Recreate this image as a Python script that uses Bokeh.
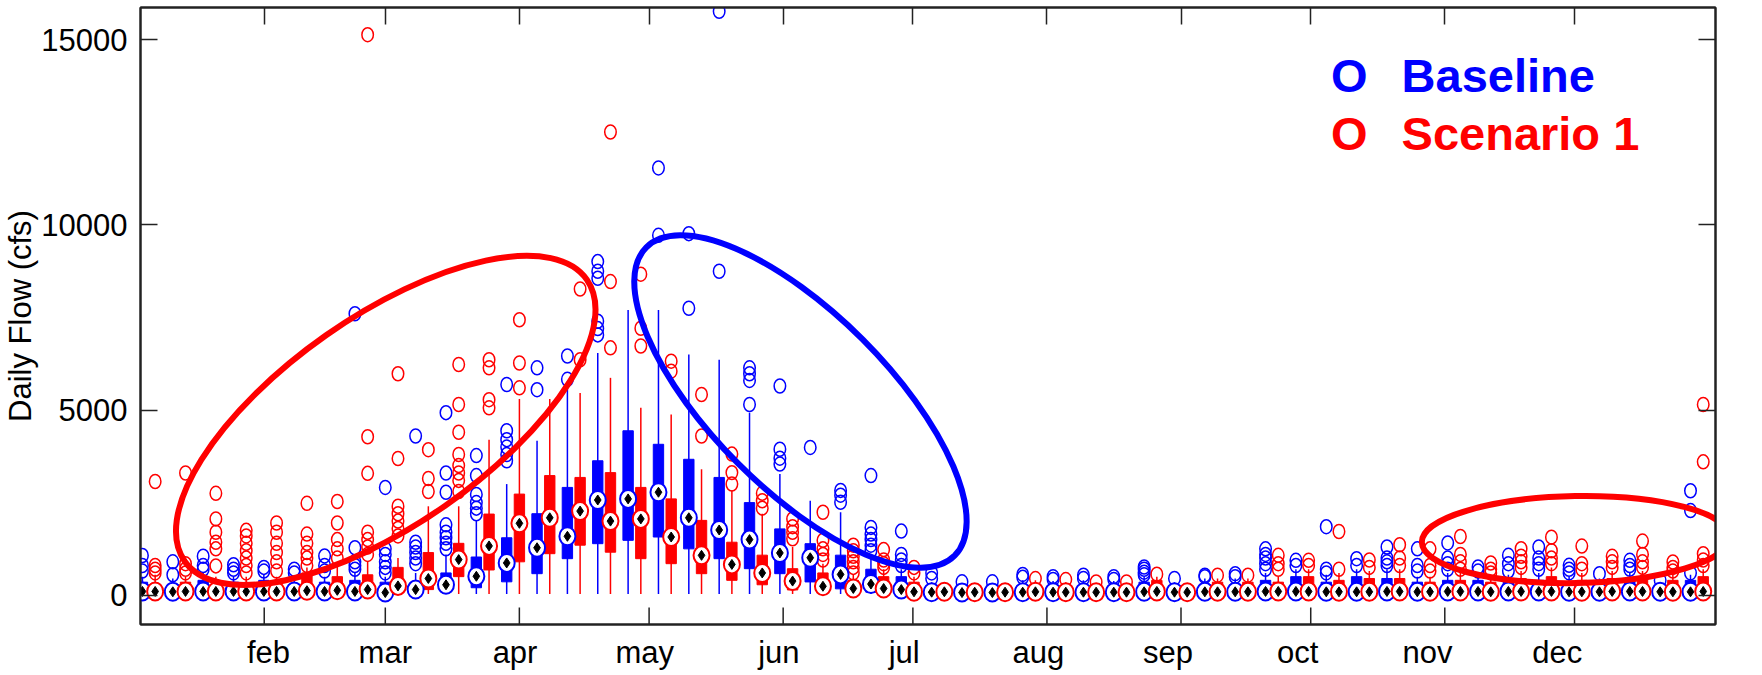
import numpy as np
from bokeh.plotting import figure
from bokeh.models import FixedTicker, LinearAxis, Range1d, ColumnDataSource, Label
from bokeh.embed import file_html
from bokeh.resources import INLINE

# ---------------- data ----------------
months = ["feb", "mar", "apr", "may", "jun", "jul", "aug", "sep", "oct", "nov", "dec"]
month_start_doy = [32, 60, 91, 121, 152, 182, 213, 244, 274, 305, 335]   # tick marks
month_label_doy = [33, 60, 90, 120, 151, 180, 211, 241, 271, 301, 331]   # label anchors
y_ticks = [0, 5000, 10000, 15000]
y_title = "Daily Flow (cfs)"
n_weeks = 52

base_med = [100, 90, 100, 100, 100, 100, 100, 100, 70, 150, 280, 510, 870, 1280, 1590, 2570, 2600, 2780, 2090, 1760,
            1500, 1140, 1010, 560, 300, 150, 80, 70, 70, 80, 80, 80, 80, 90, 80, 90, 90, 100, 100, 90,
            90, 100, 90, 100, 100, 100, 100, 90, 90, 100, 90, 90]
base_q1 = [30, 20, 30, 30, 30, 30, 30, 30, 20, 40, 80, 200, 360, 580, 985, 1390, 1480, 1570, 1250, 985,
           715, 580, 357, 170, 80, 40, 20, 20, 20, 20, 20, 20, 20, 30, 20, 30, 30, 30, 30, 30,
           30, 30, 30, 30, 30, 30, 30, 30, 30, 30, 30, 30]
base_q3 = [350, 300, 400, 350, 400, 300, 350, 400, 350, 350, 600, 1030, 1550, 2200, 2910, 3630, 4440, 4075, 3670, 3180,
           2500, 1790, 1390, 1080, 700, 500, 200, 180, 200, 250, 220, 250, 220, 350, 250, 300, 300, 400, 500, 350,
           500, 450, 350, 400, 400, 350, 400, 350, 300, 400, 250, 400]
base_hi = [500, 450, 600, 500, 550, 450, 500, 600, 500, 600, 1100, 2000, 3000, 4170, 5700, 6540, 7700, 7700, 6500, 6360,
           4930, 3270, 2550, 2240, 1000, 700, 350, 300, 300, 400, 380, 400, 380, 500, 350, 450, 450, 600, 700, 550,
           700, 700, 500, 600, 550, 550, 600, 500, 450, 600, 350, 550]
base_lo = [30] * n_weeks
base_out = [
    [650, 800, 1070], [550, 900], [700, 800, 1050], [600, 700, 820], [650, 750], [600, 700], [650, 800, 1060],
    [700, 800, 900, 1280, 7600], [600, 750, 900, 1100, 1250, 2910], [850, 1000, 1150, 1300, 1430, 4300],
    [1250, 1400, 1550, 1700, 1900, 2780, 3300, 4930], [2200, 2350, 2500, 2720, 3230, 3770],
    [3630, 3800, 4000, 4200, 4440, 5690], [5550, 6140], [5830, 6460], [7030, 7200, 7400, 8560, 8750, 9010],
    [], [9720, 11540], [7750, 9765], [8750, 15770], [5150, 5800, 5980, 6140], [3540, 3700, 3940, 5650],
    [3990], [2510, 2700, 2830], [1200, 1350, 1500, 1650, 1830, 3230], [800, 950, 1100, 1730],
    [450, 600], [360], [360], [480, 560], [420, 500], [450, 540], [420, 500], [550, 620, 700, 760], [450],
    [500, 540], [500, 580], [700, 850, 1000, 1100, 1250], [800, 940], [600, 700, 1850], [800, 985],
    [800, 900, 1000, 1300], [650, 800, 1250], [700, 850, 1000, 1410], [650, 760], [650, 850, 1075],
    [700, 850, 1000, 1300], [600, 700, 806], [580], [700, 800, 940], [400], [600, 2285, 2820],
]

scen_med = [100, 100, 100, 100, 100, 120, 130, 150, 250, 450, 960, 1330, 1940, 2090, 2270, 2000, 2060, 1570, 1075, 830,
            600, 380, 240, 180, 180, 90, 90, 80, 80, 90, 80, 80, 80, 100, 80, 90, 90, 100, 100, 90,
            90, 100, 90, 100, 90, 100, 100, 90, 100, 100, 90, 100]
scen_q1 = [30, 30, 30, 30, 30, 30, 40, 40, 60, 150, 500, 680, 900, 1120, 1350, 1160, 985, 850, 580, 400,
           280, 140, 60, 50, 40, 20, 30, 20, 20, 30, 20, 20, 20, 30, 20, 30, 30, 30, 30, 30,
           30, 30, 30, 30, 30, 30, 30, 30, 30, 30, 30, 30]
scen_q3 = [300, 350, 300, 300, 300, 600, 500, 550, 750, 1150, 1400, 2190, 2730, 3230, 3180, 3310, 2910, 2600, 2020, 1430,
           1080, 715, 600, 400, 500, 350, 250, 200, 200, 300, 250, 200, 200, 400, 200, 350, 350, 350, 500, 400,
           450, 450, 350, 400, 350, 450, 500, 400, 450, 450, 400, 500]
scen_hi = [550, 500, 500, 500, 500, 750, 850, 900, 1000, 2400, 2400, 4200, 5300, 5300, 5460, 5870, 5060, 4880, 3400, 2830,
           2200, 1300, 850, 550, 700, 500, 300, 300, 300, 400, 350, 300, 300, 500, 300, 450, 450, 500, 700, 600,
           650, 700, 500, 600, 500, 650, 750, 600, 650, 650, 550, 700]
scen_lo = [30] * n_weeks
scen_out = [
    [600, 700, 800, 3070], [600, 700, 850, 3300], [790, 1250, 1430, 1700, 2060, 2750],
    [600, 800, 1000, 1200, 1400, 1600, 1750], [650, 900, 1150, 1400, 1700, 1950],
    [800, 1000, 1150, 1400, 1650, 2480], [1000, 1250, 1500, 1950, 2530],
    [1100, 1300, 1500, 1700, 3290, 4280, 15140], [1600, 1800, 2000, 2200, 2400, 3690, 5980],
    [2800, 3150, 3930], [2800, 3100, 3300, 3500, 3800, 4400, 5150, 6230], [5060, 5280, 6140, 6360],
    [5600, 6270, 7440], [], [6360, 8270], [6680, 8470, 12510], [6730, 7210, 8670], [6050, 6320],
    [4300, 5420], [3000, 3310, 3810], [2350, 2550, 2750], [1520, 1700, 1850, 2060],
    [950, 1100, 1250, 1480, 2240], [600, 750, 900, 1050, 1200, 1350], [750, 850, 950, 1230], [600, 750],
    [], [], [], [447], [420], [357], [357], [564], [], [540], [540], [700, 850, 1075], [800, 940],
    [700, 1720], [750, 950], [800, 1000, 1360], [650, 800, 1250], [700, 900, 1100, 1585], [600, 700, 868],
    [750, 900, 1050, 1253], [850, 1000, 1200, 1567], [700, 850, 1325], [750, 900, 1048],
    [750, 900, 1100, 1460], [650, 750, 895], [800, 950, 1120, 3600, 5150],
]

series_names = ["Baseline", "Scenario 1"]
series_colors = ["#0000FF", "#FF0000"]

# highlight ellipses (center day-of-year, flow; size in screen px; angle in deg)
ell_x = [60.1, 156.0, 335.3]
ell_y = [4720, 5230, 1500]
ell_w = [491, 436, 308]
ell_h = [208, 176, 87]
ell_angle = [35, -45, 1]
ell_color = ["#FF0000", "#0000FF", "#FF0000"]

# ---------------- figure ----------------
FONT = "Liberation Sans"
AX = "#222222"
X0, X1 = 3.39, 367.6
Y0, Y1 = -793, 15874
p = figure(width=1756, height=672, x_range=Range1d(X0, X1), y_range=Range1d(Y0, Y1),
           output_backend="svg", toolbar_location=None,
           min_border_left=138, min_border_right=41, min_border_top=7, min_border_bottom=45)
p.xgrid.visible = False
p.ygrid.visible = False
p.outline_line_color = AX
p.outline_line_width = 2
p.background_fill_color = "white"
p.border_fill_color = "white"

bin_w = 365.0 / n_weeks
centers = 1.8 + (np.arange(n_weeks) + 0.5) * bin_w
dodge = 1.47
box_w = 2.4

groups = [
    (base_med, base_q1, base_q3, base_lo, base_hi, base_out, -dodge),
    (scen_med, scen_q1, scen_q3, scen_lo, scen_hi, scen_out, +dodge),
]
for (med, q1, q3, lo, hi, outs, off), color in zip(groups, series_colors):
    xs = centers + off
    src = ColumnDataSource(dict(x=xs, med=med, q1=q1, q3=q3, lo=lo, hi=hi))
    p.segment(x0="x", y0="lo", x1="x", y1="hi", source=src, line_color=color, line_width=1.5)
    p.vbar(x="x", width=box_w, bottom="q1", top="q3", source=src, fill_color=color, line_color=color)
    ox, oy = [], []
    for xi, ol in zip(xs, outs):
        for v in ol:
            ox.append(xi)
            oy.append(v)
    p.ellipse(x=ox, y=oy, width=11.5, height=14, width_units="screen", height_units="screen",
              fill_color=None, line_color=color, line_width=1.5)

for (med, q1, q3, lo, hi, outs, off), color in zip(groups, series_colors):
    xs = centers + off
    p.ellipse(x=xs, y=med, width=16, height=18, width_units="screen", height_units="screen",
              fill_color="white", line_color=color, line_width=2)
    p.scatter(x=xs, y=med, marker="diamond", size=10, fill_color="black", line_color="black")

p.ellipse(x=ell_x, y=ell_y, width=ell_w, height=ell_h, angle=ell_angle, angle_units="deg",
          width_units="screen", height_units="screen", fill_color=None,
          line_color=ell_color, line_width=6)

# bottom month-start tick marks (inward, 17 px); the labels are placed by the axis
px_per_unit = 620.0 / (Y1 - Y0)
tick_len = 17.0 / px_per_unit
p.segment(x0=month_start_doy, y0=[Y0] * len(month_start_doy), x1=month_start_doy,
          y1=[Y0 + tick_len] * len(month_start_doy), line_color=AX, line_width=1.5)

# ---------------- axes ----------------
xt_lab = FixedTicker(ticks=month_label_doy)
xt = FixedTicker(ticks=month_start_doy)
yt = FixedTicker(ticks=y_ticks)

for ax in p.xaxis:
    ax.ticker = xt_lab
    ax.major_label_overrides = {d: m for d, m in zip(month_label_doy, months)}
    ax.major_label_standoff = 10
    ax.axis_label_standoff = 0
    ax.major_tick_in = 0
    ax.major_tick_out = 0
for ax in p.yaxis:
    ax.ticker = yt
    ax.axis_label = y_title
    ax.axis_label_text_font = FONT
    ax.axis_label_text_font_size = "31px"
    ax.axis_label_text_font_style = "normal"
    ax.axis_label_text_color = "black"
    ax.axis_label_standoff = 0
    ax.major_label_standoff = 13
    ax.major_tick_in = 17
    ax.major_tick_out = 0

for ax in list(p.xaxis) + list(p.yaxis):
    ax.minor_tick_in = 0
    ax.minor_tick_out = 0
    ax.minor_tick_line_color = None
    ax.major_tick_line_width = 1.5
    ax.major_tick_line_color = AX
    ax.axis_line_color = AX
    ax.axis_line_width = 2
    ax.major_label_text_font = FONT
    ax.major_label_text_font_size = "31px"
    ax.major_label_text_color = "black"


def mirror_axis(ticker, ticks):
    return LinearAxis(ticker=ticker, major_tick_in=17, major_tick_out=0,
                      minor_tick_in=0, minor_tick_out=0, minor_tick_line_color=None,
                      major_label_overrides={t: "" for t in ticks},
                      major_label_text_font_size="1px", major_label_standoff=0, axis_label_standoff=0,
                      major_tick_line_width=1.5, major_tick_line_color=AX,
                      axis_line_color=AX, axis_line_width=2)


p.add_layout(mirror_axis(xt, month_start_doy), "above")
p.add_layout(mirror_axis(yt, y_ticks), "right")

# ---------------- legend ----------------
leg_y = [14050, 12480]
for name, color, ly in zip(series_names, series_colors, leg_y):
    p.add_layout(Label(x=278.7, y=ly, text="O", text_color=color, text_font=FONT,
                       text_font_size="47px", text_font_style="bold", text_baseline="alphabetic"))
    p.add_layout(Label(x=295.0, y=ly, text=name, text_color=color, text_font=FONT,
                       text_font_size="47px", text_font_style="bold", text_baseline="alphabetic"))

open("out.html", "w").write(file_html(p, INLINE))
